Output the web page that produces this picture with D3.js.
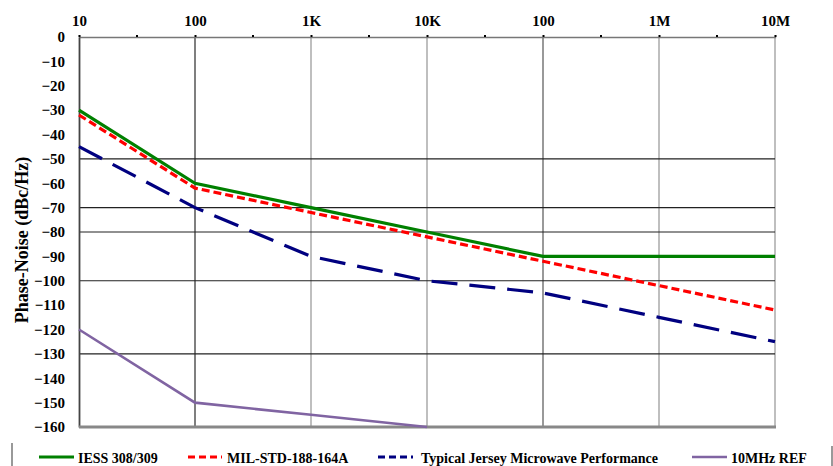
<!DOCTYPE html>
<html>
<head>
<meta charset="utf-8">
<script src="https://cdn.jsdelivr.net/npm/d3@7"></script>
<style>
  body { margin: 0; background: #fff; }
  text { font-family: "Liberation Serif", "DejaVu Serif", serif; font-weight: bold; fill: #000; }
</style>
</head>
<body>
<div id="chart"></div>
<script>
// offset frequencies (Hz) and the tick labels drawn along the top
var freqTicks = [10, 100, 1e3, 1e4, 1e5, 1e6, 1e7];
var freqLabels = ["10", "100", "1K", "10K", "100", "1M", "10M"];
var dbTicks = d3.range(0, -170, -10);
// only these horizontal grid lines show in the picture
var dbGrid = [-50, -70, -80, -100, -130];

var iessFreq = [10, 100, 1e3, 1e4, 1e5, 1e7];
var iessDb = [-30, -60, -70, -80, -90, -90];
var milFreq = [10, 100, 1e3, 1e4, 1e5, 1e6, 1e7];
var milDb = [-32, -62, -72, -82, -92, -102, -112];
var jerseyFreq = [10, 100, 1e3, 1e4, 1e5, 1e6, 1e7];
var jerseyDb = [-45, -70, -90, -100, -105, -115, -125];
var refFreq = [10, 100, 1e3, 1e4];
var refDb = [-120, -150, -155, -160];

var series = [
  {name: "IESS 308/309", f: iessFreq, v: iessDb, color: "#008000", width: 3.2, dash: null},
  {name: "MIL-STD-188-164A", f: milFreq, v: milDb, color: "#ff0000", width: 3.2, dash: "8,4"},
  {name: "Typical Jersey Microwave Performance", f: jerseyFreq, v: jerseyDb, color: "#000080", width: 3.2, dash: "26,12"},
  {name: "10MHz REF", f: refFreq, v: refDb, color: "#8064a2", width: 2.6, dash: null}
];

var width = 833, height = 466;
var margin = {top: 37, right: 58, bottom: 39, left: 79};
var w = width - margin.left - margin.right,
    h = height - margin.top - margin.bottom;

var svg = d3.select("#chart").append("svg")
    .attr("width", width)
    .attr("height", height);

var g = svg.append("g")
    .attr("transform", "translate(" + margin.left + "," + margin.top + ")");

var x = d3.scaleLog().domain([10, 1e7]).range([0, w]);
var y = d3.scaleLinear().domain([-160, 0]).range([h, 0]);

// vertical grid
g.selectAll(".vgrid")
  .data(freqTicks.slice(1))
  .enter().append("line")
    .attr("x1", d => x(d)).attr("x2", d => x(d))
    .attr("y1", 0).attr("y2", h)
    .attr("stroke", (d, i) => i == 0 ? "#555" : (i == 3 ? "#777" : "#aaa"))
    .attr("stroke-width", 1.5);

// horizontal grid
g.selectAll(".hgrid")
  .data(dbGrid)
  .enter().append("line")
    .attr("x1", 0).attr("x2", w)
    .attr("y1", d => y(d)).attr("y2", d => y(d))
    .attr("stroke", "#222")
    .attr("stroke-width", 1.2);

// top axis
var topAxis = g.append("g")
    .call(d3.axisTop(x).tickValues(freqTicks).tickFormat((d, i) => freqLabels[i]).tickSize(2).tickPadding(9));
topAxis.select(".domain").attr("stroke", "#777").attr("stroke-width", 1.3);
topAxis.selectAll(".tick line").attr("stroke", "#000").attr("stroke-width", 2);
topAxis.selectAll("text").style("font-size", "15px").style("font-family", "Liberation Serif").style("font-weight", "bold");

// minor ticks between decades
g.selectAll(".minor")
  .data(freqTicks.slice(1).map(d => d / Math.sqrt(10)))
  .enter().append("rect")
    .attr("x", d => x(d) - 1).attr("y", -2)
    .attr("width", 2).attr("height", 2)
    .attr("fill", "#000");

// left axis
var leftAxis = g.append("g")
    .call(d3.axisLeft(y).tickValues(dbTicks).tickSize(0).tickPadding(14));
leftAxis.select(".domain").attr("stroke", "#444").attr("stroke-width", 1.8);
leftAxis.selectAll("text").style("font-size", "15px").style("font-family", "Liberation Serif").style("font-weight", "bold");

// bottom axis line
g.append("line")
    .attr("x1", 0).attr("x2", w + 1)
    .attr("y1", h).attr("y2", h)
    .attr("stroke", "#888").attr("stroke-width", 3);

// series
var line = d3.line()
    .x(d => x(d[0]))
    .y(d => y(d[1]));

series.forEach(function(s) {
  g.append("path")
    .datum(s.f.map((f, i) => [f, s.v[i]]))
    .attr("d", line)
    .attr("fill", "none")
    .attr("stroke", s.color)
    .attr("stroke-width", s.width)
    .attr("stroke-dasharray", s.dash);
});

// y title
svg.append("text")
    .attr("transform", "translate(28,240) rotate(-90)")
    .attr("text-anchor", "middle")
    .style("font-size", "18px")
    .text("Phase-Noise (dBc/Hz)");

// legend
var legendX = [39, 188, 378, 692];
var legend = svg.append("g");
svg.append("line").attr("x1", 12).attr("x2", 12).attr("y1", 443).attr("y2", 466).attr("stroke", "#777").attr("stroke-width", 1.5);
svg.append("line").attr("x1", 832).attr("x2", 832).attr("y1", 446).attr("y2", 466).attr("stroke", "#777").attr("stroke-width", 1.5);

series.forEach(function(s, i) {
  var lg = legend.append("g").attr("transform", "translate(" + legendX[i] + ",457)");
  lg.append("line")
    .attr("x1", 0).attr("x2", i == 1 ? 34 : 35)
    .attr("y1", 0).attr("y2", 0)
    .attr("stroke", s.color)
    .attr("stroke-width", s.width)
    .attr("stroke-dasharray", s.dash ? "7,4" : null);
  lg.append("text")
    .attr("x", i == 2 ? 43 : 39)
    .attr("y", 6)
    .style("font-size", "14px")
    .text(s.name);
});
</script>
</body>
</html>
